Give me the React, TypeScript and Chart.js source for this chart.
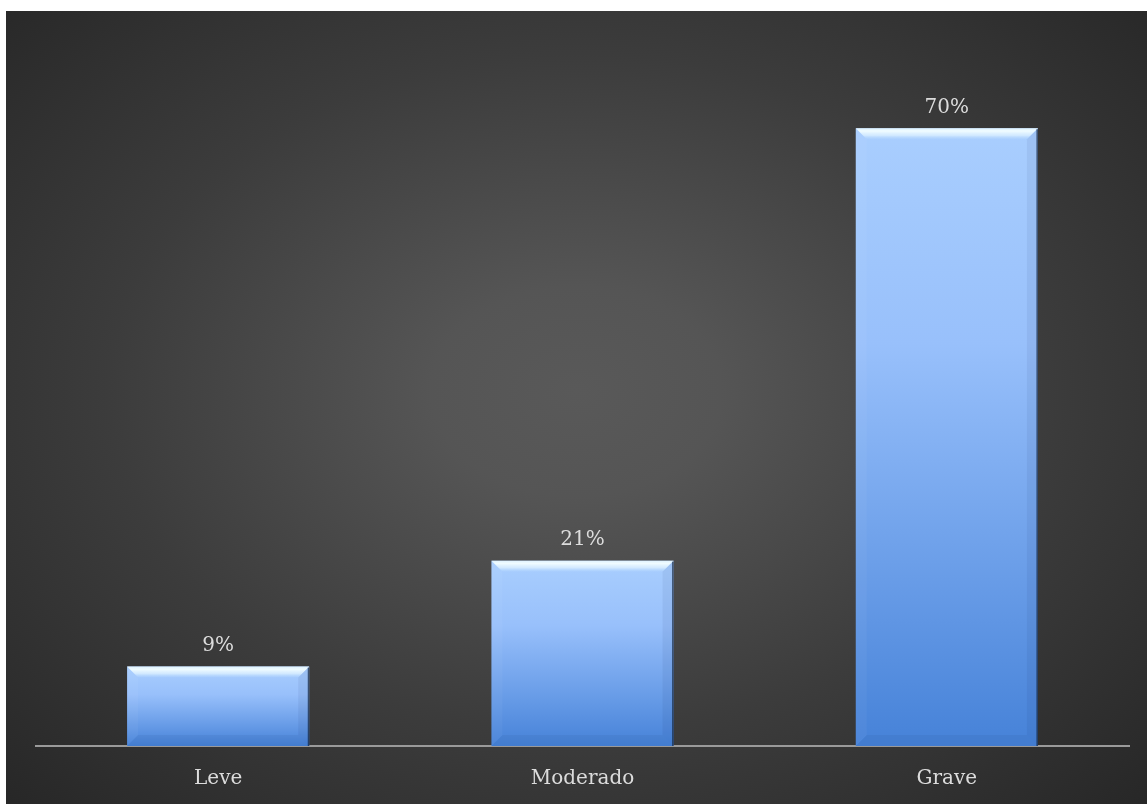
import React, { useEffect, useRef } from "react";
import { Chart, registerables } from "chart.js";

Chart.register(...registerables);

const categories = ["Leve", "Moderado", "Grave"];
const values = [9, 21, 70];
const valueLabels = ["9%", "21%", "70%"];

const FONT = "'DejaVu Serif', serif";
const TEXT = "#dcdcdc";

const bevelPlugin = {
  id: "bevel",
  afterDatasetsDraw(chart: any) {
    const ctx = chart.ctx;
    const meta = chart.getDatasetMeta(0);
    meta.data.forEach((bar: any, i: number) => {
      const { x, y, base, width } = bar.getProps(["x", "y", "base", "width"], true);
      const x0 = x - width / 2;
      const x1 = x + width / 2;
      const y0 = y;
      const y1 = base;
      const b = 11;
      ctx.save();
      // top bevel
      const gTop = ctx.createLinearGradient(0, y0, 0, y0 + b);
      gTop.addColorStop(0, "rgba(225,244,255,0.95)");
      gTop.addColorStop(0.25, "rgba(240,252,255,1)");
      gTop.addColorStop(0.65, "rgba(220,240,255,0.8)");
      gTop.addColorStop(1, "rgba(190,222,255,0.1)");
      ctx.fillStyle = gTop;
      ctx.beginPath();
      ctx.moveTo(x0, y0);
      ctx.lineTo(x1, y0);
      ctx.lineTo(x1 - b, y0 + b);
      ctx.lineTo(x0 + b, y0 + b);
      ctx.closePath();
      ctx.fill();
      // left bevel
      ctx.fillStyle = "rgba(255,255,255,0.04)";
      ctx.beginPath();
      ctx.moveTo(x0, y0);
      ctx.lineTo(x0 + b, y0 + b);
      ctx.lineTo(x0 + b, y1 - b);
      ctx.lineTo(x0, y1);
      ctx.closePath();
      ctx.fill();
      // right bevel
      ctx.fillStyle = "rgba(0,20,60,0.06)";
      ctx.beginPath();
      ctx.moveTo(x1, y0);
      ctx.lineTo(x1 - b, y0 + b);
      ctx.lineTo(x1 - b, y1 - b);
      ctx.lineTo(x1, y1);
      ctx.closePath();
      ctx.fill();
      // bottom bevel
      ctx.fillStyle = "rgba(0,20,60,0.05)";
      ctx.beginPath();
      ctx.moveTo(x0, y1);
      ctx.lineTo(x0 + b, y1 - b);
      ctx.lineTo(x1 - b, y1 - b);
      ctx.lineTo(x1, y1);
      ctx.closePath();
      ctx.fill();
      // right dark edge
      ctx.fillStyle = "rgba(20,35,60,0.7)";
      ctx.fillRect(x1 - 1.5, y0 + 1, 1.5, y1 - y0 - 1);
      // value label
      ctx.fillStyle = TEXT;
      ctx.font = `20px ${FONT}`;
      ctx.textAlign = "center";
      ctx.textBaseline = "alphabetic";
      ctx.fillText(valueLabels[i], x, y0 - 15.5);
      ctx.restore();
    });
  },
};

export default function App() {
  const canvasRef = useRef<HTMLCanvasElement | null>(null);

  useEffect(() => {
    if (!canvasRef.current) return;
    const chart = new Chart(canvasRef.current, {
      type: "bar",
      data: {
        labels: categories,
        datasets: [
          {
            data: values,
            barPercentage: 0.5,
            categoryPercentage: 1,
            borderWidth: 0,
            backgroundColor: (c: any) => {
              const ch = c.chart;
              const { chartArea, scales } = ch;
              if (!chartArea || c.raw === undefined) return "#7aa9ec";
              const top = scales.y.getPixelForValue(c.raw);
              const bottom = scales.y.getPixelForValue(0);
              const g = ch.ctx.createLinearGradient(0, top, 0, bottom);
              g.addColorStop(0, "#a9cefe");
              g.addColorStop(0.35, "#98c0fb");
              g.addColorStop(0.7, "#6c9fe9");
              g.addColorStop(1, "#4682d8");
              return g;
            },
          },
        ],
      },
      options: {
        animation: false,
        responsive: true,
        maintainAspectRatio: false,
        layout: { padding: { left: 30, right: 18, top: 29, bottom: 0 } },
        plugins: {
          legend: { display: false },
          tooltip: { enabled: false },
        },
        scales: {
          x: {
            grid: { display: false, drawTicks: false },
            border: { display: true, color: "#9a9a9a", width: 2 },
            ticks: {
              color: TEXT,
              font: { family: FONT, size: 20 },
              padding: 21,
            },
            afterFit: (scale: any) => {
              scale.height = 58;
            },
          },
          y: {
            display: false,
            min: 0,
            max: 80,
          },
        },
      },
      plugins: [bevelPlugin],
    });
    return () => chart.destroy();
  }, []);

  return (
    <div
      style={{
        position: "fixed",
        left: 6,
        top: 11,
        width: 1141,
        height: 793,
        background:
          "radial-gradient(ellipse farthest-corner at 50% 48%, #595959 0%, #555555 18%, #3c3c3c 58%, #272727 100%)",
      }}
    >
      <canvas ref={canvasRef} />
    </div>
  );
}
